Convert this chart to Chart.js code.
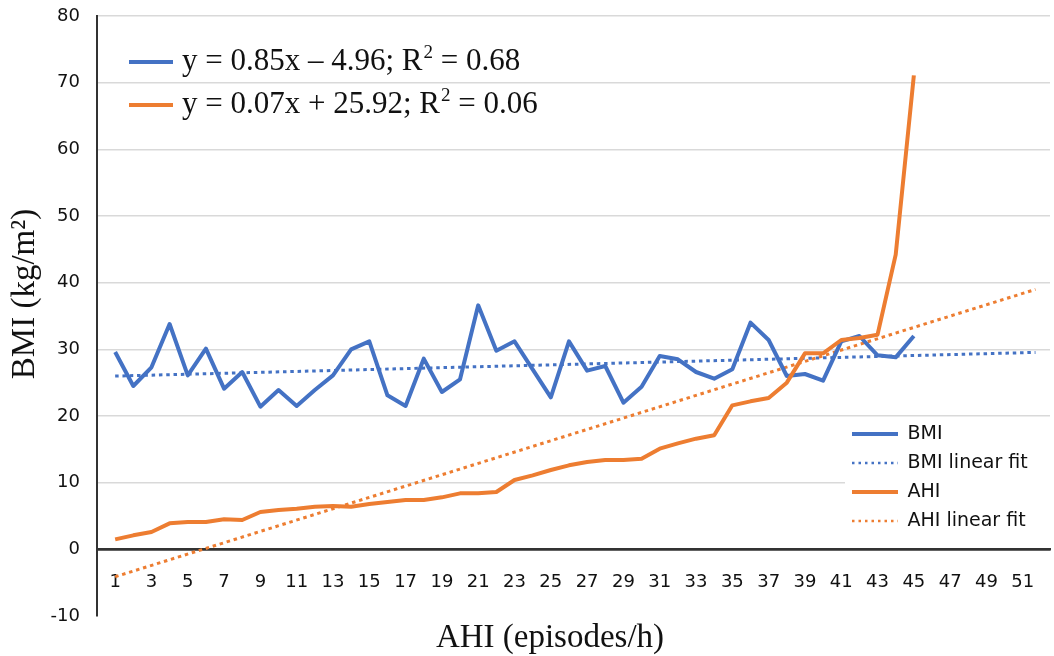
<!DOCTYPE html>
<html>
<head>
<meta charset="utf-8">
<title>BMI and AHI</title>
<script src="https://cdn.jsdelivr.net/npm/chart.js@4.4.1/dist/chart.umd.min.js"></script>
<style>
  html, body { margin: 0; padding: 0; background: #ffffff; }
  #wrap { position: relative; width: 1054px; height: 656px; }
</style>
</head>
<body>
<div id="wrap"><canvas id="chart"></canvas></div>
<script>
// Patients ordered by AHI (episode index along the horizontal axis)
const categories = [1, 2, 3, 4, 5, 6, 7, 8, 9, 10, 11, 12, 13, 14, 15, 16, 17, 18, 19, 20,
  21, 22, 23, 24, 25, 26, 27, 28, 29, 30, 31, 32, 33, 34, 35, 36, 37, 38, 39, 40,
  41, 42, 43, 44, 45];

// BMI (kg/m²) per patient
const bmiValues = [29.6, 24.5, 27.3, 33.8, 26.1, 30.1, 24.1, 26.6, 21.4, 23.9,
  21.5, 23.9, 26.1, 30.0, 31.2, 23.1, 21.5, 28.6, 23.6, 25.5,
  36.6, 29.8, 31.2, 27.0, 22.8, 31.2, 26.8, 27.5, 22.0, 24.4,
  29.0, 28.5, 26.6, 25.6, 27.0, 34.0, 31.4, 26.0, 26.3, 25.3,
  31.2, 32.0, 29.1, 28.8, 32.0];

// AHI (episodes/h) per patient
const ahiValues = [1.5, 2.1, 2.6, 3.9, 4.1, 4.1, 4.5, 4.4, 5.6, 5.9,
  6.1, 6.4, 6.5, 6.4, 6.8, 7.1, 7.4, 7.4, 7.8, 8.4,
  8.4, 8.6, 10.4, 11.1, 11.9, 12.6, 13.1, 13.4, 13.4, 13.6,
  15.1, 15.9, 16.6, 17.1, 21.6, 22.2, 22.7, 25.0, 29.4, 29.4,
  31.4, 31.7, 32.2, 44.2, 71.1];

// Axis tick labels
const xTickLabels = [1, 3, 5, 7, 9, 11, 13, 15, 17, 19, 21, 23, 25, 27, 29, 31, 33, 35,
  37, 39, 41, 43, 45, 47, 49, 51];
const yTickValues = [-10, 0, 10, 20, 30, 40, 50, 60, 70, 80];

// Linear fits: [slope, intercept], R² and the x span the fit lines cover
const ahiFitCoef = [0.85, -4.96];
const bmiFitCoef = [0.07, 25.92];
const fitR2 = [0.68, 0.06];
const fitSpan = [1, 51.7];

const BLUE = '#4472C4';
const ORANGE = '#ED7D31';
const SANS = 'DejaVu Sans';
const SERIF = 'Liberation Serif';
const INK = '#111111';

const toPoints = vals => vals.map((v, i) => ({ x: categories[i], y: v }));
const fitPoints = coef => fitSpan.map(x => ({ x: x, y: coef[0] * x + coef[1] }));

// Equation text split around the superscript of R²
const eqParts = (coef, r2) => [
  'y = ' + coef[0].toFixed(2) + 'x ' + (coef[1] < 0 ? '\u2013 ' : '+ ') +
    Math.abs(coef[1]).toFixed(2) + '; R',
  '2',
  ' = ' + r2.toFixed(2)
];

// Equation block in the upper-left corner of the plot
const eqRows = [
  { color: BLUE, parts: eqParts(ahiFitCoef, fitR2[0]) },
  { color: ORANGE, parts: eqParts(bmiFitCoef, fitR2[1]) }
];

const equationBox = {
  id: 'equationBox',
  afterDraw(chart) {
    const { ctx, chartArea } = chart;
    const size = 31;
    const x0 = chartArea.left + 32;
    const y0 = chartArea.top + 46;
    ctx.save();
    ctx.textBaseline = 'middle';
    ctx.textAlign = 'left';
    eqRows.forEach((row, i) => {
      const y = y0 + i * 43;
      ctx.strokeStyle = row.color;
      ctx.lineWidth = 4;
      ctx.beginPath();
      ctx.moveTo(x0, y);
      ctx.lineTo(x0 + 44, y);
      ctx.stroke();
      ctx.fillStyle = INK;
      let x = x0 + 53;
      const [main, sup, tail] = row.parts;
      ctx.font = size + 'px "' + SERIF + '"';
      ctx.fillText(main, x, y);
      x += ctx.measureText(main).width + 1;
      ctx.font = Math.round(size * 0.62) + 'px "' + SERIF + '"';
      ctx.fillText(sup, x, y - size * 0.3);
      x += ctx.measureText(sup).width;
      ctx.font = size + 'px "' + SERIF + '"';
      ctx.fillText(tail, x, y);
    });
    ctx.restore();
  }
};

// Axis captions
const xCaption = 'AHI (episodes/h)';
const yCaption = 'BMI (kg/m\u00B2)';

const axisCaptions = {
  id: 'axisCaptions',
  afterDraw(chart) {
    const { ctx } = chart;
    ctx.save();
    ctx.fillStyle = INK;
    ctx.textAlign = 'center';
    ctx.textBaseline = 'middle';
    ctx.font = '33px "' + SERIF + '"';
    ctx.fillText(xCaption, 550, 638);
    ctx.translate(25, 294);
    ctx.rotate(-Math.PI / 2);
    ctx.fillText(yCaption, 0, 0);
    ctx.restore();
  }
};

// Legend sits in the lower-right part of the plot on a white panel
const LEGEND_ROWS = 4;
const LEGEND_STEP = 29;
const legendPlacement = {
  id: 'legendPlacement',
  afterLayout(chart) {
    const lg = chart.legend;
    if (!lg) return;
    const w = lg.width;
    lg.left = 842;
    lg.top = 414.5;
    lg.right = lg.left + w;
    lg.bottom = lg.top + LEGEND_ROWS * LEGEND_STEP + 20;
    lg.height = lg.bottom - lg.top;
  },
  afterDatasetsDraw(chart) {
    const lg = chart.legend;
    if (!lg) return;
    const { ctx, chartArea } = chart;
    ctx.save();
    ctx.fillStyle = '#ffffff';
    ctx.fillRect(lg.left + 3, lg.top + 4, chartArea.right - lg.left - 3, LEGEND_ROWS * LEGEND_STEP + 4);
    ctx.restore();
    lg.draw();
  }
};

new Chart(document.getElementById('chart'), {
  type: 'line',
  data: {
    datasets: [
      {
        label: 'BMI',
        data: toPoints(bmiValues),
        borderColor: BLUE,
        backgroundColor: BLUE,
        borderWidth: 4,
        borderJoinStyle: 'round',
        pointRadius: 0,
        tension: 0,
        order: 1
      },
      {
        label: 'BMI linear fit',
        data: fitPoints(bmiFitCoef),
        borderColor: BLUE,
        backgroundColor: BLUE,
        borderWidth: 3,
        borderDash: [3.5, 3.8],
        pointRadius: 0,
        order: 3
      },
      {
        label: 'AHI',
        data: toPoints(ahiValues),
        borderColor: ORANGE,
        backgroundColor: ORANGE,
        borderWidth: 4,
        borderJoinStyle: 'round',
        pointRadius: 0,
        tension: 0,
        order: 0
      },
      {
        label: 'AHI linear fit',
        data: fitPoints(ahiFitCoef),
        borderColor: ORANGE,
        backgroundColor: ORANGE,
        borderWidth: 3,
        borderDash: [3.5, 3.8],
        pointRadius: 0,
        order: 2
      }
    ]
  },
  options: {
    responsive: true,
    maintainAspectRatio: false,
    animation: false,
    layout: { padding: { top: 16, right: 4, bottom: 40, left: 0 } },
    plugins: {
      title: { display: false },
      tooltip: { enabled: false },
      legend: {
        position: 'chartArea',
        align: 'start',
        labels: {
          usePointStyle: true,
          pointStyle: 'line',
          pointStyleWidth: 46,
          padding: 10,
          color: INK,
          font: { family: SANS, size: 19 },
          sort: (a, b) => a.datasetIndex - b.datasetIndex,
          generateLabels(chart) {
            const items = Chart.defaults.plugins.legend.labels.generateLabels(chart);
            items.forEach(it => {
              const ds = chart.data.datasets[it.datasetIndex];
              it.lineDash = ds.borderDash ? [2.5, 4] : [];
              it.lineWidth = ds.borderDash ? 2.5 : ds.borderWidth;
              it.strokeStyle = ds.borderColor;
            });
            return items;
          }
        }
      }
    },
    scales: {
      x: {
        type: 'linear',
        min: 0,
        max: 52.5,
        position: { y: 0 },
        afterBuildTicks: s => { s.ticks = xTickLabels.map(v => ({ value: v })); },
        afterFit: s => { s.paddingLeft = 0; s.paddingRight = 0; s.paddingTop = 0; s.paddingBottom = 0; },
        grid: { display: false, drawTicks: false },
        border: { display: true, color: '#333333', width: 2.5 },
        ticks: {
          autoSkip: false,
          maxRotation: 0,
          padding: 22,
          color: INK,
          font: { family: SANS, size: 18 },
          callback: v => String(v)
        }
      },
      y: {
        type: 'linear',
        min: -10,
        max: 80,
        afterBuildTicks: s => { s.ticks = yTickValues.map(v => ({ value: v })); },
        afterFit: s => { s.width = 97; s.paddingTop = 0; s.paddingBottom = 0; },
        grid: {
          drawTicks: false,
          color: c => (c.tick && c.tick.value === -10) ? 'rgba(0,0,0,0)'
            : (c.tick && c.tick.value === 0) ? '#333333' : '#d9d9d9',
          lineWidth: c => (c.tick && c.tick.value === 0) ? 2.5 : 1.5
        },
        border: { display: true, color: '#333333', width: 2 },
        ticks: {
          padding: 17,
          color: INK,
          font: { family: SANS, size: 18 },
          callback: v => String(v)
        }
      }
    }
  },
  plugins: [legendPlacement, equationBox, axisCaptions]
});
</script>
</body>
</html>
